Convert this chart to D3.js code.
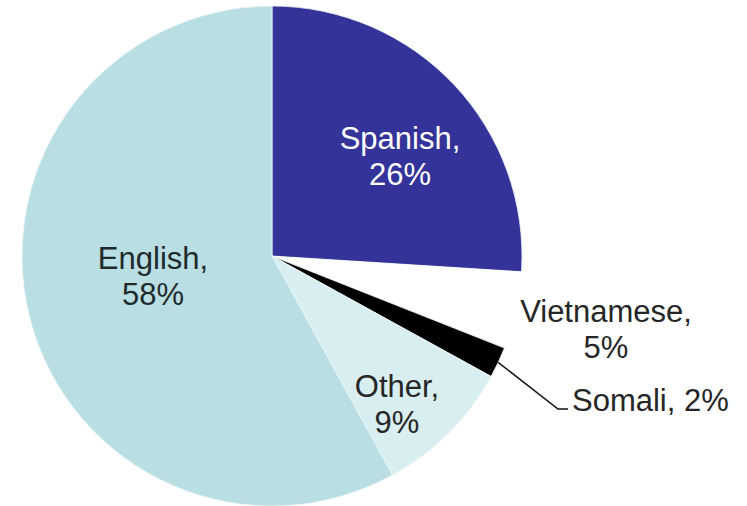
<!DOCTYPE html>
<html>
<head>
<meta charset="utf-8">
<script src="https://cdn.jsdelivr.net/npm/d3@7"></script>
<style>
  html, body { margin: 0; padding: 0; background: #fff; }
  svg { display: block; }
  text { font-family: "Liberation Sans", Arial, sans-serif; font-size: 31px; }
</style>
</head>
<body>
<div id="main"></div>
<script>
// data, clockwise from 12 o'clock
const languages = ['Spanish', 'Vietnamese', 'Somali', 'Other', 'English'];
const shares = [26, 5, 2, 9, 58];
const sliceColors = ['#333399', '#ffffff', '#000000', '#d9eef1', '#b9dee3'];
const textColors = ['#ffffff', '#262626', '#262626', '#262626', '#1f2a2c'];

let width = 747;
let height = 506;
let cx = 272;
let cy = 256;
let radius = 250;

// label spots relative to the pie centre (first baseline)
const labelSpots = {
    'Spanish': {dx: 128, dy: -107, anchor: 'middle', split: true},
    'Vietnamese': {dx: 334, dy: 66, anchor: 'middle', split: true},
    'Somali': {dx: 300, dy: 155, anchor: 'start', split: false},
    'Other': {dx: 125, dy: 141, anchor: 'middle', split: true},
    'English': {dx: -119, dy: 13, anchor: 'middle', split: true}
};

const rows = languages.map((name, i) => {
    return {name: name, value: shares[i], color: sliceColors[i], text: textColors[i]};
});

const svg = d3.select('#main').append('svg')
    .attr('width', width)
    .attr('height', height);

const chart = svg.append('g')
    .attr('transform', `translate(${cx}, ${cy})`);

const pie = d3.pie()
    .sort(null)
    .value((d) => d.value);

const arc = d3.arc()
    .innerRadius(0)
    .outerRadius(radius);

const arcs = pie(rows);

chart.selectAll('path.slice')
    .data(arcs)
    .enter()
    .append('path')
    .attr('class', 'slice')
    .attr('fill', (d) => d.data.color)
    .attr('stroke', (d) => d.data.name == 'Vietnamese' ? 'none' : '#eef6f8')
    .attr('stroke-width', 0.8)
    .attr('d', arc);

// leader line for the small Somali slice
const somali = arcs.find((d) => d.data.name == 'Somali');
const mid = (somali.startAngle + somali.endAngle) / 2;
const edge = [Math.sin(mid) * radius, -Math.cos(mid) * radius];
const spot = labelSpots['Somali'];
chart.append('path')
    .attr('fill', 'none')
    .attr('stroke', '#111')
    .attr('stroke-width', 1.5)
    .attr('d', d3.line()([edge, [spot.dx - 14, spot.dy - 2], [spot.dx - 4, spot.dy - 2]]));

// labels
chart.selectAll('text.label')
    .data(arcs)
    .enter()
    .append('text')
    .attr('class', 'label')
    .attr('fill', (d) => d.data.text)
    .attr('text-anchor', (d) => labelSpots[d.data.name].anchor)
    .attr('transform', (d) => {
        const s = labelSpots[d.data.name];
        return `translate(${s.dx}, ${s.dy})`;
    })
    .each(function(d) {
        const s = labelSpots[d.data.name];
        const t = d3.select(this);
        const pct = d.data.value + '%';
        if (s.split) {
            t.append('tspan').attr('x', 0).attr('y', 0).text(d.data.name + ',');
            t.append('tspan').attr('x', 0).attr('y', 36).text(pct);
        } else {
            t.append('tspan').attr('x', 0).attr('y', 0).text(d.data.name + ', ' + pct);
        }
    });
</script>
</body>
</html>
